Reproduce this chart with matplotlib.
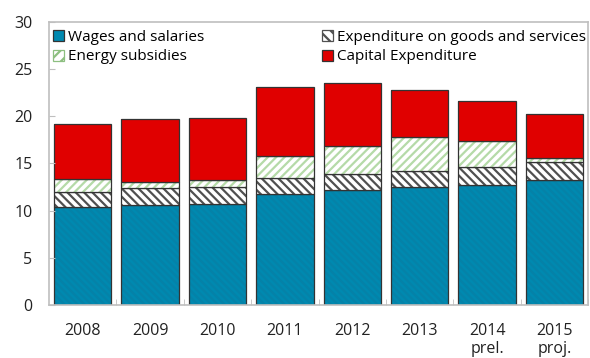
import matplotlib
matplotlib.use('Agg')
import matplotlib.pyplot as plt
from matplotlib.patches import Patch
import numpy as np

plt.rcParams['font.family'] = ['Open Sans', 'DejaVu Sans']
plt.rcParams['hatch.linewidth'] = 1.6

years = ['2008', '2009', '2010', '2011', '2012', '2013', '2014\nprel.', '2015\nproj.']
wages = [10.4, 10.6, 10.65, 11.8, 12.2, 12.5, 12.7, 13.2]
goods = [1.55, 1.75, 1.8, 1.7, 1.65, 1.65, 1.9, 1.9]
energy = [1.4, 0.7, 0.8, 2.3, 3.0, 3.65, 2.8, 0.45]
capital = [5.85, 6.65, 6.6, 7.25, 6.65, 4.95, 4.25, 4.65]

blue = '#0089B0'
red = '#E00000'
green = '#B5DAA8'
grey_hatch = '#505050'
edge = '#333333'

fig = plt.figure(figsize=(5.9, 3.58), dpi=100)
ax = fig.add_axes([0.083, 0.148, 0.914, 0.791])

x = np.arange(len(years))
w = 0.85


def stacked(vals, bottom, face, hatch=None, hatch_col=None):
    # hatch drawn with its own colour, outline added on top
    if hatch:
        ax.bar(x, vals, w, bottom=bottom, color=face, hatch=hatch,
               edgecolor=hatch_col, linewidth=0)
    else:
        ax.bar(x, vals, w, bottom=bottom, color=face, linewidth=0)
    ax.bar(x, vals, w, bottom=bottom, fill=False, edgecolor=edge, linewidth=0.9)


b0 = np.zeros(len(years))
stacked(wages, b0, blue, '\\\\\\\\\\', '#0582A8')
b1 = b0 + np.array(wages)
stacked(goods, b1, 'white', '\\\\\\\\', grey_hatch)
b2 = b1 + np.array(goods)
stacked(energy, b2, 'white', '////', green)
b3 = b2 + np.array(energy)
stacked(capital, b3, red)

ax.set_xlim(-0.5, len(years) - 0.5)
ax.set_ylim(0, 30)
ax.set_yticks(range(0, 31, 5))
ax.set_xticks(x)
ax.set_xticklabels(years)
ax.set_xticks(np.arange(len(years)) + 0.5, minor=True)

for s in ax.spines.values():
    s.set_color('#BFBFBF')
    s.set_linewidth(1.2)

ax.tick_params(axis='y', direction='in', length=4, color='#BFBFBF', pad=12,
               labelsize=11.5, labelcolor='#222222')
ax.tick_params(axis='x', which='major', length=0, pad=13, labelsize=11.5,
               labelcolor='#222222')
ax.tick_params(axis='x', which='minor', direction='in', length=4, color='#BFBFBF')

handles = [
    Patch(facecolor=blue, edgecolor=edge, linewidth=0.9, label='Wages and salaries'),
    Patch(facecolor='white', edgecolor='#8DBF80', hatch='///', linewidth=0.9,
          label='Energy subsidies'),
    Patch(facecolor='white', edgecolor=grey_hatch, hatch='\\\\\\', linewidth=0.9,
          label='Expenditure on goods and services'),
    Patch(facecolor=red, edgecolor=edge, linewidth=0.9, label='Capital Expenditure'),
]
ax.legend(handles=handles, ncol=2, frameon=False, loc='upper left',
          bbox_to_anchor=(-0.01, 1.005), fontsize=11, handlelength=0.75,
          handleheight=0.75, handletextpad=0.25, columnspacing=7.7,
          labelspacing=0.32, borderaxespad=0.2)

fig.savefig('out.png', dpi=100)
